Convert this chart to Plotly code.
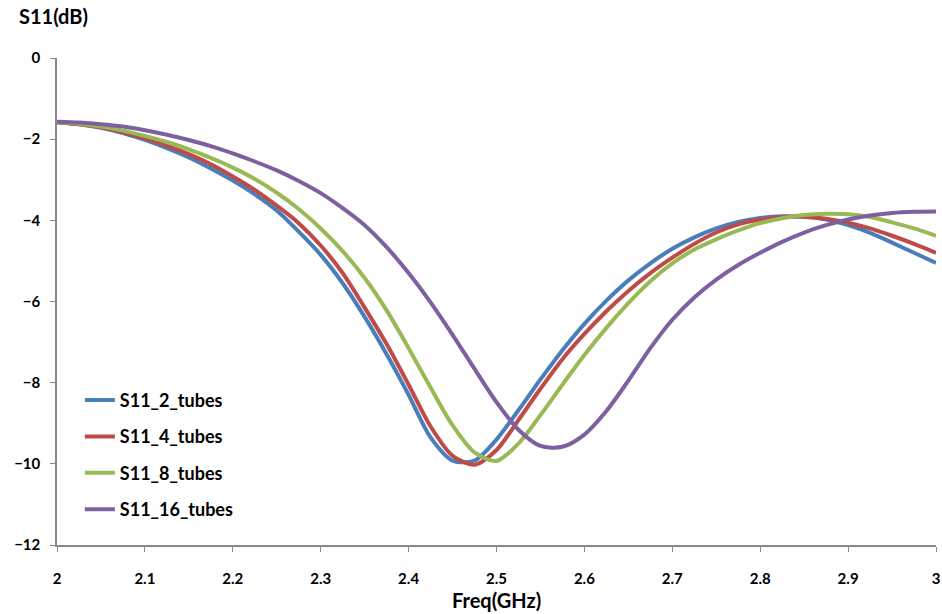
import plotly.graph_objects as go

freq = [2.000, 2.025, 2.050, 2.075, 2.100, 2.125, 2.150, 2.175, 2.200, 2.225,
        2.250, 2.275, 2.300, 2.325, 2.350, 2.375, 2.400, 2.425, 2.450, 2.475,
        2.500, 2.525, 2.550, 2.575, 2.600, 2.625, 2.650, 2.675, 2.700, 2.725,
        2.750, 2.775, 2.800, 2.825, 2.850, 2.875, 2.900, 2.925, 2.950, 2.975, 3.000]

s11_2_tubes = [-1.58, -1.63, -1.72, -1.85, -2.02, -2.22, -2.45, -2.72, -3.02, -3.36,
               -3.76, -4.28, -4.85, -5.55, -6.38, -7.30, -8.30, -9.35, -9.92, -9.92,
               -9.40, -8.68, -7.92, -7.20, -6.55, -5.98, -5.48, -5.06, -4.70, -4.42,
               -4.20, -4.04, -3.94, -3.90, -3.91, -3.98, -4.12, -4.31, -4.55, -4.80, -5.05]

s11_4_tubes = [-1.58, -1.63, -1.71, -1.83, -1.98, -2.16, -2.37, -2.62, -2.92, -3.25,
               -3.64, -4.07, -4.62, -5.30, -6.15, -7.05, -8.05, -9.08, -9.80, -10.02,
               -9.66, -8.92, -8.15, -7.42, -6.80, -6.24, -5.74, -5.30, -4.92, -4.58,
               -4.30, -4.10, -3.98, -3.92, -3.91, -3.96, -4.06, -4.20, -4.38, -4.58, -4.80]

s11_8_tubes = [-1.58, -1.62, -1.69, -1.79, -1.92, -2.07, -2.25, -2.46, -2.70, -2.98,
               -3.32, -3.72, -4.20, -4.76, -5.42, -6.22, -7.15, -8.12, -9.05, -9.72,
               -9.93, -9.50, -8.80, -8.05, -7.32, -6.65, -6.04, -5.50, -5.06, -4.72,
               -4.47, -4.25, -4.07, -3.95, -3.87, -3.84, -3.85, -3.92, -4.05, -4.20, -4.38]

s11_16_tubes = [-1.57, -1.59, -1.63, -1.69, -1.78, -1.89, -2.02, -2.17, -2.35, -2.55,
                -2.77, -3.03, -3.33, -3.70, -4.12, -4.66, -5.30, -6.02, -6.82, -7.66,
                -8.48, -9.16, -9.56, -9.58, -9.28, -8.70, -7.95, -7.15, -6.45, -5.90,
                -5.46, -5.10, -4.80, -4.53, -4.30, -4.12, -3.98, -3.88, -3.82, -3.79, -3.78]

series_names = ["S11_2_tubes", "S11_4_tubes", "S11_8_tubes", "S11_16_tubes"]
series_values = [s11_2_tubes, s11_4_tubes, s11_8_tubes, s11_16_tubes]
colors = ["#4A7EBB", "#BE4B48", "#98B954", "#7D60A0"]

x_ticks = [2.0, 2.1, 2.2, 2.3, 2.4, 2.5, 2.6, 2.7, 2.8, 2.9, 3.0]
x_tick_labels = ["2", "2.1", "2.2", "2.3", "2.4", "2.5", "2.6", "2.7", "2.8", "2.9", "3"]
y_ticks = [0, -2, -4, -6, -8, -10, -12]

font_family = "Lato, 'Open Sans', sans-serif"

fig = go.Figure()
for name, vals, col in zip(series_names, series_values, colors):
    fig.add_trace(go.Scatter(
        x=freq, y=vals, mode="lines", name=name, legendgroup=name,
        line=dict(color=col, width=4, shape="spline", smoothing=0.8),
    ))

fig.update_layout(
    width=942, height=614,
    margin=dict(l=57, r=6, t=58, b=69),
    paper_bgcolor="white", plot_bgcolor="white",
    font=dict(family=font_family, color="black"),
    showlegend=True,
    legend=dict(
        x=0.026, y=0.335, xanchor="left", yanchor="top",
        bgcolor="rgba(0,0,0,0)", tracegroupgap=10,
        font=dict(size=18, family=font_family, weight="bold", color="black"),
    ),
    xaxis=dict(
        range=[2, 3], tickvals=x_ticks, ticktext=x_tick_labels, automargin=False,
        showgrid=False, zeroline=False, showline=True, linecolor="#888888", linewidth=1.5,
        ticks="outside", ticklen=5, tickcolor="#888888",
        tickfont=dict(size=15, family=font_family, weight="bold", color="black"),
        ticklabelstandoff=14,
    ),
    yaxis=dict(
        range=[-12, 0], tickvals=y_ticks, automargin=False,
        showgrid=False, zeroline=False, showline=True, linecolor="#888888", linewidth=1.5,
        ticks="outside", ticklen=5, tickcolor="#888888",
        tickfont=dict(size=15, family=font_family, weight="bold", color="black"),
        ticklabelstandoff=7,
    ),
    annotations=[
        dict(text="S11(dB)", xref="paper", yref="paper",
             x=-0.046, y=1.0, yshift=42,
             xanchor="left", yanchor="middle", showarrow=False,
             font=dict(size=20, family=font_family, weight="bold", color="black")),
        dict(text="Freq(GHz)", xref="paper", yref="paper", x=0.5, y=0, yshift=-55,
             xanchor="center", yanchor="middle", showarrow=False,
             font=dict(size=20, family=font_family, weight="bold", color="black")),
    ],
)

# remove the default 8px body margin so the figure sits at the window's top-left corner
fig.write_html("out.html", config={"displayModeBar": False},
               post_script="document.body.style.margin='0';")
